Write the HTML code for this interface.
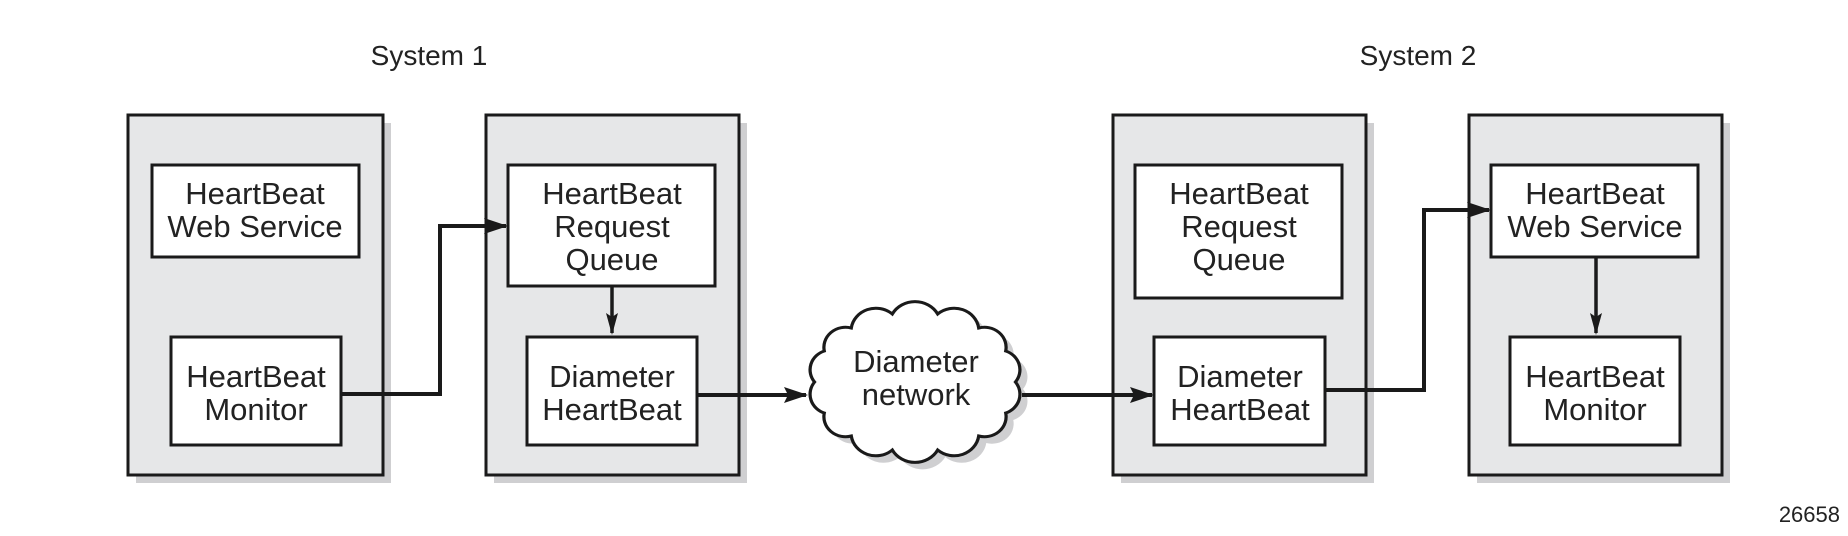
<!DOCTYPE html>
<html><head><meta charset="utf-8"><style>
body{margin:0;background:#fff;}
svg text{font-family:"Liberation Sans",sans-serif;fill:#222;}
</style></head><body>
<svg width="1848" height="531" viewBox="0 0 1848 531" xmlns="http://www.w3.org/2000/svg">
<defs>
<marker id="ah" markerWidth="12" markerHeight="22" refX="6" refY="20" orient="0" markerUnits="userSpaceOnUse">
<path d="M0,0 L6,22 L12,0 L6,4 Z" fill="#1a1a1a"/></marker>
<marker id="ah2" markerWidth="24" markerHeight="16" refX="22" refY="8" orient="auto" markerUnits="userSpaceOnUse">
<path d="M0,0 L24,8 L0,16 L4,8 Z" fill="#1a1a1a"/></marker>
</defs>
<text x="429" y="65" font-size="28" text-anchor="middle">System 1</text>
<text x="1418" y="65" font-size="28" text-anchor="middle">System 2</text>
<g fill="#cfcfd1">
<rect x="136" y="123" width="255" height="360"/>
<rect x="494" y="123" width="253" height="360"/>
<rect x="1121" y="123" width="253" height="360"/>
<rect x="1477" y="123" width="253" height="360"/>
</g>
<g fill="#e6e7e8" stroke="#1a1a1a" stroke-width="3">
<rect x="128" y="115" width="255" height="360"/>
<rect x="486" y="115" width="253" height="360"/>
<rect x="1113" y="115" width="253" height="360"/>
<rect x="1469" y="115" width="253" height="360"/>
</g>
<g fill="#fff" stroke="#1a1a1a" stroke-width="3">
<rect x="152" y="165" width="207" height="92"/>
<rect x="171" y="337" width="170" height="108"/>
<rect x="508" y="165" width="207" height="121"/>
<rect x="527" y="337" width="170" height="108"/>
<rect x="1135" y="165" width="207" height="133"/>
<rect x="1154" y="337" width="171" height="108"/>
<rect x="1491" y="165" width="207" height="92"/>
<rect x="1510" y="337" width="170" height="108"/>
</g>
<g font-size="31" text-anchor="middle">
<text x="255" y="204">HeartBeat</text><text x="255" y="237">Web Service</text>
<text x="256" y="387">HeartBeat</text><text x="256" y="420">Monitor</text>
<text x="612" y="204">HeartBeat</text><text x="612" y="237">Request</text><text x="612" y="270">Queue</text>
<text x="612" y="387">Diameter</text><text x="612" y="420">HeartBeat</text>
<text x="1239" y="204">HeartBeat</text><text x="1239" y="237">Request</text><text x="1239" y="270">Queue</text>
<text x="1240" y="387">Diameter</text><text x="1240" y="420">HeartBeat</text>
<text x="1595" y="204">HeartBeat</text><text x="1595" y="237">Web Service</text>
<text x="1595" y="387">HeartBeat</text><text x="1595" y="420">Monitor</text>
</g>
<g transform="translate(915,382) scale(1.08,1) translate(-915,-382)">
<path transform="translate(7,7)" fill="#cfcfd1" d="M1008,382 A20,20 0 0 1 999,413 A20,20 0 0 1 974,436 A23,23 0 0 1 936,450 A24,24 0 0 1 894,450 A23,23 0 0 1 856,436 A20,20 0 0 1 831,413 A20,20 0 0 1 822,382 A20,20 0 0 1 831,351 A20,20 0 0 1 856,328 A23,23 0 0 1 894,314 A24,24 0 0 1 936,314 A23,23 0 0 1 974,328 A20,20 0 0 1 999,351 A20,20 0 0 1 1008,382 Z"/>
<path fill="#fff" stroke="#1a1a1a" stroke-width="3" d="M1008,382 A20,20 0 0 1 999,413 A20,20 0 0 1 974,436 A23,23 0 0 1 936,450 A24,24 0 0 1 894,450 A23,23 0 0 1 856,436 A20,20 0 0 1 831,413 A20,20 0 0 1 822,382 A20,20 0 0 1 831,351 A20,20 0 0 1 856,328 A23,23 0 0 1 894,314 A24,24 0 0 1 936,314 A23,23 0 0 1 974,328 A20,20 0 0 1 999,351 A20,20 0 0 1 1008,382 Z"/>
</g>
<text x="916" y="372" font-size="31" text-anchor="middle">Diameter</text>
<text x="916" y="405" font-size="31" text-anchor="middle">network</text>
<g fill="none" stroke="#1a1a1a" stroke-width="4">
<path d="M341,394 H440 V226 H506" marker-end="url(#ah2)"/>
<path d="M697,395 H806" marker-end="url(#ah2)"/>
<path d="M1022,395 H1152" marker-end="url(#ah2)"/>
<path d="M1325,390 H1424 V210 H1489" marker-end="url(#ah2)"/>
</g>
<g fill="none" stroke="#1a1a1a" stroke-width="3.5">
<path d="M612,286 V333" marker-end="url(#ah)"/>
<path d="M1596,257 V333" marker-end="url(#ah)"/>
</g>
<text x="1840" y="522" font-size="22" text-anchor="end">26658</text>
</svg>
</body></html>
